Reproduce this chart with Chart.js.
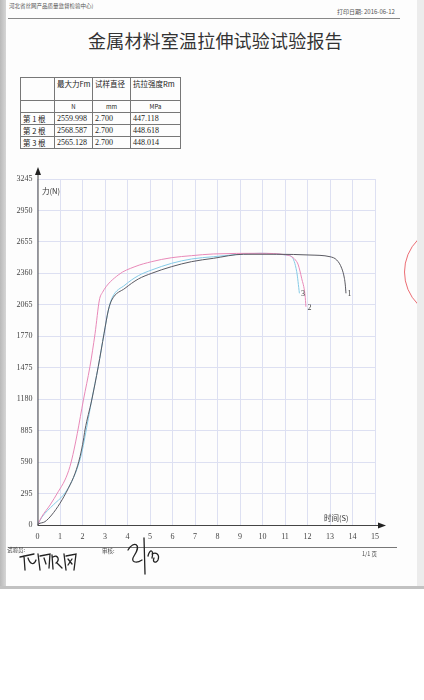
<!DOCTYPE html>
<html>
<head>
<meta charset="utf-8">
<script src="https://cdn.jsdelivr.net/npm/chart.js@4.4.1/dist/chart.umd.min.js"></script>
<style>
    html, body { margin: 0; padding: 0; background: #fff; }
    body { width: 424px; height: 700px; position: relative; overflow: hidden; font-family: "Noto Sans CJK SC", sans-serif; color: #333; }
    .abs { position: absolute; white-space: nowrap; }
    #page { position: absolute; left: 0; top: 0; width: 424px; height: 588px; background: #fdfdfd; }
    #leftBar { position: absolute; left: 0; top: 0; width: 6px; height: 588px; background: linear-gradient(to right, #b9b9b9, #d6d6d6); }
    #rightBar { position: absolute; left: 417px; top: 0; width: 7px; height: 588px; background: #ececec; }
    #bottomBar { position: absolute; left: 0; top: 586px; width: 424px; height: 3px; background: #c2c2c2; }
    #chartBox { position: absolute; left: 0; top: 160px; width: 400px; height: 390px; }
    table { position: absolute; left: 20px; top: 77px; border-collapse: collapse; table-layout: fixed; width: 160px; font-size: 7.5px; color: #222; }
    td { border: 1px solid #777; padding: 0 2px; height: 11px; line-height: 11px; white-space: nowrap; overflow: hidden; color: #222; font-family: "Noto Sans CJK SC", "Liberation Serif", serif; }
    .num { font-family: "Liberation Serif", serif; font-size: 8px; }
    #stampWrap { position: absolute; left: 400px; top: 222px; width: 17px; height: 100px; overflow: hidden; }
    #stamp { position: absolute; left: 4px; top: 4px; width: 90px; height: 90px; border-radius: 50%; border: 1.5px solid rgba(230, 60, 70, 0.75); }
</style>
</head>
<body>
<div id="page"></div>
<div id="leftBar"></div>
<div id="rightBar"></div>
<div id="bottomBar"></div>

<div class="abs" style="left:9px;top:2px;font-size:5.5px;color:#555;">河北省丝网产品质量监督检验中心)</div>
<div class="abs" style="left:337px;top:7px;font-size:6px;color:#555;">打印日期: 2016-06-12</div>
<div class="abs" style="left:8px;top:18px;width:392px;height:1px;background:#888;"></div>
<div class="abs" style="left:88px;top:27px;font-size:18px;line-height:26px;color:#333;letter-spacing:0.2px;">金属材料室温拉伸试验试验报告</div>

<table>
    <colgroup><col style="width:34px"><col style="width:38px"><col style="width:38px"><col style="width:50px"></colgroup>
    <tr><td style="height:22px;"></td><td style="vertical-align:top;">最大力Fm</td><td style="vertical-align:top;">试样直径</td><td style="vertical-align:top;">抗拉强度Rm</td></tr>
    <tr><td></td><td style="text-align:center;font-size:6px;">N</td><td style="text-align:center;font-size:6px;">mm</td><td style="text-align:center;font-size:6px;">MPa</td></tr>
    <tr><td>第 1 根</td><td class="num">2559.998</td><td class="num">2.700</td><td class="num">447.118</td></tr>
    <tr><td>第 2 根</td><td class="num">2568.587</td><td class="num">2.700</td><td class="num">448.618</td></tr>
    <tr><td>第 3 根</td><td class="num">2565.128</td><td class="num">2.700</td><td class="num">448.014</td></tr>
</table>

<div id="chartBox"><canvas id="tensileChart" width="400" height="390"></canvas></div>

<div class="abs" style="left:42px;top:185px;font-size:7.5px;color:#333;">力(N)</div>
<div class="abs" style="left:324px;top:512px;font-size:7.5px;color:#333;">时间(S)</div>

<div class="abs" style="left:8px;top:547px;width:389px;height:1px;background:#777;"></div>
<div class="abs" style="left:7px;top:546px;font-size:5.5px;color:#444;">试验员:</div>
<div class="abs" style="left:102px;top:547px;font-size:5.5px;color:#444;">审核:</div>
<div class="abs" style="left:362px;top:550px;font-size:5.5px;color:#444;">1/1 页</div>

<svg class="abs" style="left:0;top:530px;" width="200" height="56">
    <g fill="none" stroke="#222" stroke-width="1.3" stroke-linecap="round">
        <path d="M20 27 L34 24 M24 26 L25 40 M28 28 C30 34 34 36 36 30 M38 24 L40 40 M40 26 L50 24 L49 38 M44 28 L46 34 M52 25 L53 39 M53 27 C58 24 60 30 56 33 M57 33 L62 38 M64 24 L66 40 M66 26 L76 24 L74 40 M68 29 L72 34 M72 29 L68 35"/>
        <path d="M128 20 C134 10 142 14 134 26 C130 32 136 34 142 30 M144 8 L145 44 M148 26 C150 18 154 20 152 28 M152 24 C156 22 160 24 158 30 C156 34 152 32 154 28"/>
    </g>
</svg>

<div id="stampWrap"><div id="stamp"></div></div>

<script>
// specimen 1 (dark), 2 (pink), 3 (blue) : time in s, force in N
const timeS1 = [0, 0.04, 0.33, 0.63, 1.0, 1.37, 1.67, 1.89, 2.04, 2.11, 2.41, 2.70, 2.96, 3.15, 3.30, 3.89, 4.48, 5.08, 5.96, 6.85, 7.81, 9.15, 10.63, 12.11, 13.0, 13.30, 13.52, 13.64, 13.68, 13.71];
const forceN1 = [0, 9, 31, 94, 204, 344, 485, 641, 797, 891, 1172, 1485, 1798, 2016, 2110, 2220, 2307, 2361, 2423, 2470, 2501, 2539, 2539, 2532, 2516, 2485, 2408, 2314, 2251, 2173];

const timeS2 = [0, 0.04, 0.19, 0.56, 0.92, 1.22, 1.44, 1.62, 1.77, 2.04, 2.33, 2.56, 2.75, 2.88, 3.59, 4.33, 5.08, 5.96, 6.85, 7.81, 9.89, 11.08, 11.30, 11.52, 11.59, 11.74, 11.89, 11.93];
const forceN2 = [0, 16, 78, 188, 312, 422, 547, 703, 860, 1172, 1485, 1798, 2110, 2179, 2345, 2423, 2470, 2507, 2526, 2542, 2548, 2532, 2516, 2470, 2439, 2314, 2157, 2047];

const timeS3 = [0, 0.04, 0.19, 0.70, 1.15, 1.44, 1.74, 1.96, 2.11, 2.41, 2.70, 2.96, 3.15, 3.32, 3.89, 4.48, 5.08, 5.96, 6.85, 7.81, 9.89, 11.08, 11.30, 11.52, 11.64];
const forceN3 = [0, 16, 72, 188, 281, 375, 516, 672, 828, 1172, 1485, 1798, 2016, 2132, 2251, 2338, 2392, 2454, 2495, 2516, 2548, 2532, 2516, 2376, 2173];

const curveLabels = ['1', '2', '3'];
const curveColors = ['#5a5a62', '#e889b8', '#86cbe6'];

const xMax = 15;
const yMax = 3245;
const yStep = 295;

function pairs(xs, ys) {
    return xs.map((x, i) => ({ x: x, y: ys[i] }));
}

const axisArrows = {
    id: 'axisArrows',
    afterDatasetsDraw(chart) {
        const { ctx, chartArea } = chart;
        const { left, right, top, bottom } = chartArea;
        ctx.save();
        ctx.strokeStyle = '#444';
        ctx.fillStyle = '#222';
        ctx.lineWidth = 1;
        ctx.beginPath();
        ctx.moveTo(left + 0.5, bottom);
        ctx.lineTo(left + 0.5, top - 6);
        ctx.moveTo(left, bottom + 0.5);
        ctx.lineTo(right + 5, bottom + 0.5);
        ctx.stroke();
        // arrow heads
        ctx.beginPath();
        ctx.moveTo(left + 0.5, top - 12);
        ctx.lineTo(left - 2.5, top - 4);
        ctx.lineTo(left + 3.5, top - 4);
        ctx.closePath();
        ctx.fill();
        ctx.beginPath();
        ctx.moveTo(right + 11, bottom + 0.5);
        ctx.lineTo(right + 3, bottom - 2.5);
        ctx.lineTo(right + 3, bottom + 3.5);
        ctx.closePath();
        ctx.fill();

        // curve numbers at the end of each curve
        ctx.font = '8px "Liberation Serif", serif';
        ctx.textAlign = 'left';
        ctx.textBaseline = 'middle';
        chart.data.datasets.forEach((ds, i) => {
            const pts = chart.getDatasetMeta(i).data;
            const last = pts[pts.length - 1];
            ctx.fillStyle = '#444';
            ctx.fillText(curveLabels[i], last.x + 1.5, last.y + 1);
        });
        ctx.restore();
    }
};

const tickFont = { family: '"Liberation Serif", serif', size: 8 };

const ctx = document.getElementById('tensileChart').getContext('2d');
new Chart(ctx, {
    type: 'line',
    data: {
        datasets: [
            { label: curveLabels[0], data: pairs(timeS1, forceN1), borderColor: curveColors[0] },
            { label: curveLabels[1], data: pairs(timeS2, forceN2), borderColor: curveColors[1] },
            { label: curveLabels[2], data: pairs(timeS3, forceN3), borderColor: curveColors[2] }
        ].map(ds => Object.assign(ds, { borderWidth: 1, pointRadius: 0, fill: false, cubicInterpolationMode: 'monotone' }))
    },
    options: {
        responsive: false,
        animation: false,
        layout: { padding: { top: 19, right: 25, left: 0, bottom: 0 } },
        plugins: { legend: { display: false }, tooltip: { enabled: false } },
        scales: {
            x: {
                type: 'linear',
                min: 0,
                max: xMax,
                afterFit: scale => { scale.height = 25; },
                grid: { color: '#dde0f2', lineWidth: 1, drawTicks: false },
                border: { display: false },
                ticks: { stepSize: 1, padding: 7, color: '#444', font: tickFont, callback: v => String(v) }
            },
            y: {
                min: 0,
                max: yMax,
                afterFit: scale => { scale.width = 37.5; },
                grid: { color: '#dde0f2', lineWidth: 1, drawTicks: false },
                border: { display: false },
                ticks: { stepSize: yStep, padding: 5, color: '#444', font: tickFont, callback: v => String(v) }
            }
        }
    },
    plugins: [axisArrows]
});
</script>
</body>
</html>
